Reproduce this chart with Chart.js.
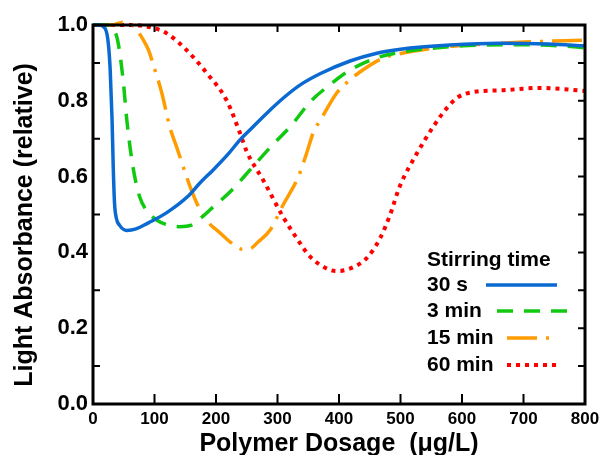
<!DOCTYPE html>
<html>
<head>
<meta charset="utf-8">
<script src="https://cdn.jsdelivr.net/npm/chart.js@4.4.1/dist/chart.umd.min.js"></script>
<style>
  body { margin: 0; background: #fff; }
</style>
</head>
<body>
<canvas id="chart" width="600" height="455"></canvas>
<script>
const seriesNames = ['30 s', '3 min', '15 min', '60 min'];

const dose30s = [0, 10, 20, 25, 28, 31, 33, 35, 38, 43, 55, 70, 90, 120, 153, 175, 195, 220, 239, 255, 283, 310, 337, 370, 418, 460, 500, 580, 660, 740, 800];
const abs30s  = [1.0, 1.0, 0.99, 0.95, 0.88, 0.75, 0.62, 0.53, 0.49, 0.472, 0.458, 0.462, 0.478, 0.505, 0.546, 0.585, 0.617, 0.66, 0.697, 0.723, 0.768, 0.808, 0.842, 0.872, 0.905, 0.925, 0.936, 0.947, 0.952, 0.95, 0.945];

const dose3m = [0, 25, 33, 40, 49, 55, 65, 76, 90, 104, 120, 141, 160, 175, 190, 223, 255, 283, 325, 353, 385, 418, 461, 504, 560, 600, 700, 760, 800];
const abs3m  = [1.0, 1.0, 0.99, 0.96, 0.855, 0.749, 0.625, 0.546, 0.505, 0.485, 0.473, 0.468, 0.472, 0.49, 0.512, 0.56, 0.617, 0.668, 0.74, 0.797, 0.842, 0.881, 0.913, 0.929, 0.94, 0.945, 0.948, 0.945, 0.94];

const dose15m = [0, 30, 49, 60, 70, 82, 90, 101, 112, 125, 136, 158, 174, 187, 207, 225, 244, 256, 268, 288, 309, 334, 348, 358, 372, 396, 412, 434, 472, 504, 569, 620, 700, 800];
const abs15m  = [1.0, 1.0, 1.007, 1.003, 0.99, 0.96, 0.935, 0.88, 0.82, 0.73, 0.678, 0.573, 0.512, 0.48, 0.451, 0.425, 0.408, 0.41, 0.427, 0.459, 0.525, 0.6, 0.665, 0.715, 0.755, 0.82, 0.847, 0.876, 0.913, 0.926, 0.942, 0.948, 0.955, 0.96];

const dose60m = [0, 60, 98, 120, 152, 185, 217, 239, 250, 277, 309, 331, 353, 385, 399, 423, 445, 467, 483, 499, 527, 553, 575, 594, 618, 667, 727, 800];
const abs60m  = [1.0, 1.0, 0.992, 0.978, 0.934, 0.873, 0.802, 0.715, 0.666, 0.59, 0.494, 0.438, 0.389, 0.354, 0.351, 0.361, 0.385, 0.438, 0.499, 0.575, 0.662, 0.731, 0.78, 0.81, 0.823, 0.828, 0.834, 0.826];

const xTickValues = [0, 100, 200, 300, 400, 500, 600, 700, 800];
const yTickValues = [0, 0.1, 0.2, 0.3, 0.4, 0.5, 0.6, 0.7, 0.8, 0.9, 1.0];

const toPoints = (xs, ys) => xs.map((x, i) => ({ x: x, y: ys[i] }));

const frameAndLegend = {
    id: 'frameAndLegend',
    afterDraw(chart) {
        const ctx = chart.ctx;
        const a = chart.chartArea;
        const x = chart.scales.x;
        const y = chart.scales.y;
        ctx.save();
        ctx.strokeStyle = '#000';
        ctx.lineWidth = 2;
        ctx.beginPath();
        xTickValues.forEach(v => {
            if (v <= 0 || v >= 800) return;
            const px = x.getPixelForValue(v);
            ctx.moveTo(px, a.bottom); ctx.lineTo(px, a.bottom - 10);
            ctx.moveTo(px, a.top); ctx.lineTo(px, a.top + 7);
        });
        yTickValues.forEach((v, i) => {
            if (v <= 0 || v >= 1) return;
            const py = y.getPixelForValue(v);
            if (i % 2 === 1) {
                ctx.moveTo(a.left, py); ctx.lineTo(a.left + 7, py);
            }
            ctx.moveTo(a.right, py); ctx.lineTo(a.right - 7, py);
        });
        ctx.stroke();
        ctx.lineWidth = 3;
        ctx.strokeRect(a.left, a.top, a.right - a.left, a.bottom - a.top);

        // legend: text first, line sample after it
        ctx.fillStyle = '#000';
        ctx.font = 'bold 21px "Liberation Sans", Arial, sans-serif';
        ctx.textBaseline = 'middle';
        ctx.textAlign = 'left';
        ctx.fillText('Stirring time', 427, 260);
        const rows = [
            { y: 285, x0: 486, x1: 557 },
            { y: 311, x0: 497, x1: 568 },
            { y: 338, x0: 507, x1: 556 },
            { y: 365, x0: 507, x1: 561 }
        ];
        chart.data.datasets.forEach((ds, i) => {
            const r = rows[i];
            ctx.fillStyle = '#000';
            ctx.fillText(ds.label, 427, r.y);
            ctx.save();
            ctx.strokeStyle = ds.borderColor;
            ctx.lineWidth = ds.borderWidth;
            ctx.setLineDash(ds.borderDash);
            ctx.lineCap = 'butt';
            ctx.beginPath();
            ctx.moveTo(r.x0, r.y);
            ctx.lineTo(r.x1, r.y);
            ctx.stroke();
            ctx.restore();
        });
        ctx.restore();
    }
};

const lineStyle = { showLine: true, pointRadius: 0, fill: false, cubicInterpolationMode: 'monotone', clip: false };
const fontFamily = '"Liberation Sans", Arial, sans-serif';

let chart = new Chart(document.querySelector('#chart'), {
    type: 'scatter',
    data: {
        datasets: [
            Object.assign({ label: seriesNames[0], data: toPoints(dose30s, abs30s), borderColor: '#0a6ad2', borderWidth: 3.5, borderDash: [] }, lineStyle),
            Object.assign({ label: seriesNames[1], data: toPoints(dose3m, abs3m), borderColor: '#11c911', borderWidth: 3.5, borderDash: [16, 11] }, lineStyle),
            Object.assign({ label: seriesNames[2], data: toPoints(dose15m, abs15m), borderColor: '#ff9c00', borderWidth: 3.5, borderDash: [30, 9, 3, 9] }, lineStyle),
            Object.assign({ label: seriesNames[3], data: toPoints(dose60m, abs60m), borderColor: '#ff0000', borderWidth: 4, borderDash: [4, 5] }, lineStyle)
        ]
    },
    options: {
        responsive: false,
        animation: false,
        layout: { padding: { top: 25, right: 15, left: 0, bottom: 0 } },
        plugins: { legend: { display: false }, tooltip: { enabled: false } },
        scales: {
            x: {
                type: 'linear', min: 0, max: 800,
                grid: { display: false, drawTicks: false },
                border: { display: false },
                ticks: {
                    stepSize: 100, padding: 5, color: '#000',
                    font: { family: fontFamily, size: 17, weight: 'bold' }
                },
                title: {
                    display: true, text: 'Polymer Dosage  (μg/L)', color: '#000',
                    padding: { top: 0, bottom: -2 },
                    font: { family: fontFamily, size: 25, weight: 'bold', lineHeight: 1 }
                },
                afterFit: (scale) => {
                    scale.height = 51;
                    scale.paddingLeft = 0;
                    scale.paddingRight = 0;
                }
            },
            y: {
                min: 0, max: 1,
                grid: { display: false, drawTicks: false },
                border: { display: false },
                ticks: {
                    stepSize: 0.2, padding: 5, color: '#000',
                    callback: (v) => v.toFixed(1),
                    font: { family: fontFamily, size: 22, weight: 'bold' }
                },
                title: {
                    display: true, text: 'Light Absorbance (relative)\u00a0\u00a0\u00a0', color: '#000',
                    padding: { top: 13, bottom: 0 },
                    font: { family: fontFamily, size: 25, weight: 'bold', lineHeight: 1 }
                },
                afterFit: (scale) => {
                    scale.width = 93;
                    scale.paddingTop = 0;
                    scale.paddingBottom = 0;
                }
            }
        }
    },
    plugins: [frameAndLegend]
});
</script>
</body>
</html>
